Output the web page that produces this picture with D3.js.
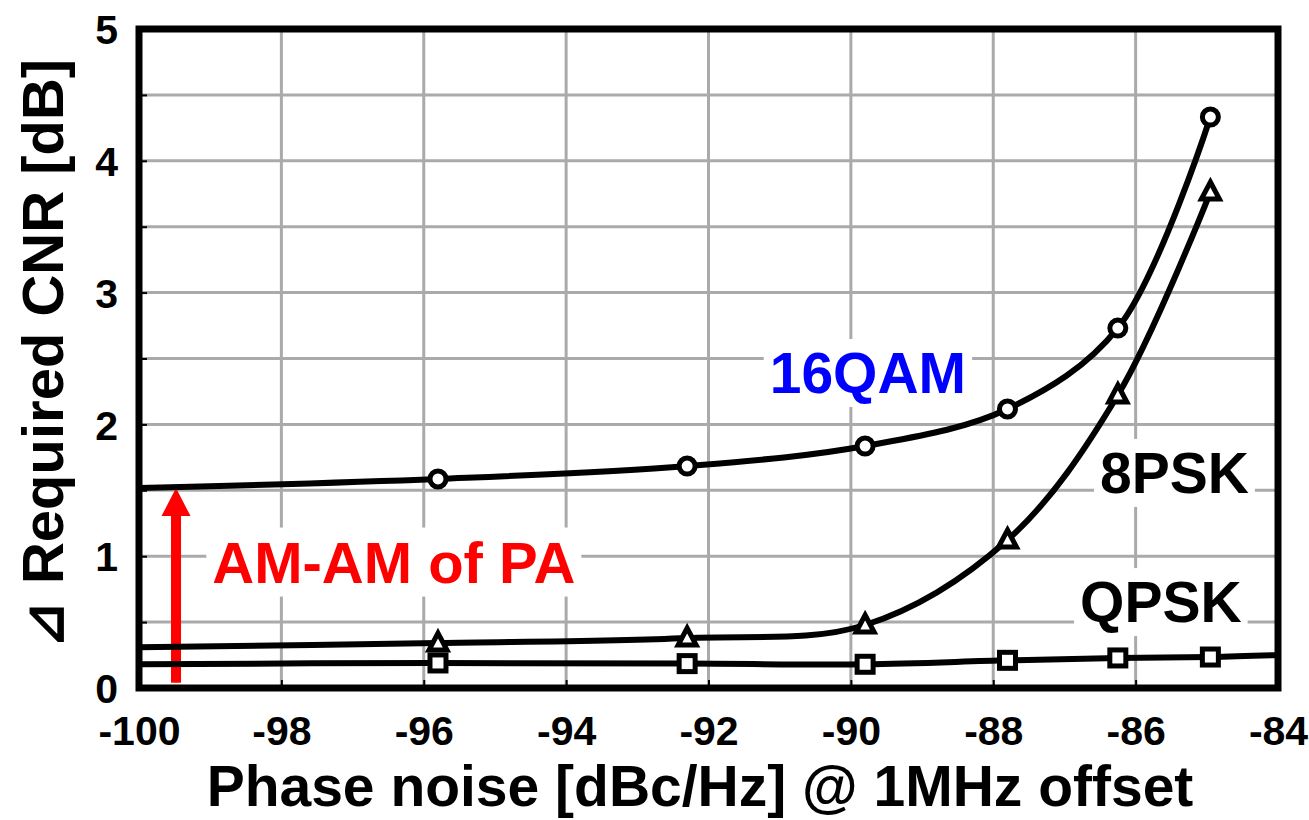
<!DOCTYPE html>
<html>
<head>
<meta charset="utf-8">
<script src="https://cdn.jsdelivr.net/npm/d3@7"></script>
<style>
  html, body { margin: 0; padding: 0; background: #fff; }
  svg { display: block; font-family: "Liberation Sans", Arial, sans-serif; font-weight: bold; }
</style>
</head>
<body>
<svg id="chart" width="1309" height="820"></svg>
<script>
// ---- data ----
const xTicks = [-100, -98, -96, -94, -92, -90, -88, -86, -84];
const yTicks = [0, 1, 2, 3, 4, 5];
const yGrid = [0.5, 1, 1.5, 2, 2.5, 3, 3.5, 4, 4.5];
const markerX = [-95.8, -92.3, -89.8, -87.8, -86.25, -84.95];
const qam16 = [1.586, 1.684, 1.836, 2.117, 2.731, 4.332];
const psk8 = [0.341, 0.379, 0.478, 1.123, 2.223, 3.763];
const qpsk = [0.19, 0.185, 0.18, 0.21, 0.228, 0.235];
// line starts at -100 (all) ; QPSK line continues to -84
const qam16Start = 1.517;
const psk8Start = 0.31;
const qpskStart = 0.18;
const qpskEnd = 0.25;
const xTitle = "Phase noise [dBc/Hz] @ 1MHz offset";
const yTitle = "\u22BF Required CNR [dB]";

// ---- layout ----
const svg = d3.select("#chart");
const L = 139, R = 1278, T = 29, B = 688;
const x = d3.scaleLinear().domain([-100, -84]).range([L, R]);
const y = d3.scaleLinear().domain([0, 5]).range([B, T]);

// grid
const grid = svg.append("g").attr("stroke", "#aaaaaa").attr("stroke-width", 3);
grid.selectAll("line.v").data(xTicks.slice(1, -1)).join("line")
  .attr("x1", d => x(d)).attr("x2", d => x(d)).attr("y1", T).attr("y2", B);
grid.selectAll("line.h").data(yGrid).join("line")
  .attr("x1", L).attr("x2", R).attr("y1", d => y(d)).attr("y2", d => y(d));

// axes (ticks inside)
const xAxis = d3.axisBottom(x).tickValues(xTicks).tickSize(-8).tickFormat(d => d);
const gx = svg.append("g").attr("transform", `translate(0,${B})`).call(xAxis);
gx.select(".domain").remove();
gx.selectAll(".tick line").attr("stroke", "#000").attr("stroke-width", 2);
gx.selectAll(".tick text").attr("font-size", 41).attr("font-weight", "bold")
  .attr("fill", "#000").attr("y", 0).attr("dy", 57).attr("font-family", "Liberation Sans, Arial, sans-serif");

const yAxisMinor = d3.axisLeft(y).tickValues(yGrid.concat([0,5])).tickSize(-8).tickFormat("");
const gyMinor = svg.append("g").attr("transform", `translate(${L},0)`).call(yAxisMinor);
gyMinor.select(".domain").remove();
gyMinor.selectAll(".tick line").attr("stroke", "#000").attr("stroke-width", 2);

const yAxis = d3.axisLeft(y).tickValues(yTicks).tickSize(0).tickPadding(21).tickFormat(d => d);
const gy = svg.append("g").attr("transform", `translate(${L},0)`).call(yAxis);
gy.select(".domain").remove();
gy.selectAll(".tick text").attr("font-size", 41).attr("font-weight", "bold")
  .attr("fill", "#000").attr("dy", "0.36em").attr("font-family", "Liberation Sans, Arial, sans-serif");

// labels with white backgrounds
function label(text, xv, yv, color, size) {
  const g = svg.append("g");
  const t = g.append("text").attr("x", x(xv)).attr("y", y(yv)).attr("fill", color)
    .attr("font-size", size).attr("font-weight", "bold").text(text);
  const bb = t.node().getBBox();
  g.insert("rect", "text").attr("x", bb.x - 6).attr("y", bb.y - 2)
    .attr("width", bb.width + 12).attr("height", bb.height + 4).attr("fill", "#fff");
}
label("16QAM", -91.14, 2.238, "#0000ff", 57);
label("8PSK", -86.5, 1.48, "#000", 57);
label("QPSK", -86.78, 0.50, "#000", 57);
label("AM-AM of PA", -98.97, 0.80, "#ff0000", 58);

// red arrow
const ax = -99.48;
const arrowTop = y(qam16Start);
svg.append("line").attr("x1", x(ax)).attr("x2", x(ax)).attr("y1", y(0.04)).attr("y2", arrowTop + 26)
  .attr("stroke", "#ff0000").attr("stroke-width", 10);
svg.append("path")
  .attr("d", `M${x(ax)},${arrowTop} L${x(ax) - 14.5},${arrowTop + 28} L${x(ax) + 14.5},${arrowTop + 28} Z`)
  .attr("fill", "#ff0000");

// series
const line = d3.line().x(d => x(d[0])).y(d => y(d[1])).curve(d3.curveCatmullRom.alpha(0.5));
function series(vals, start, end, shape) {
  const pts = [[-100, start]].concat(markerX.map((m, i) => [m, vals[i]]));
  if (end !== null) pts.push([-84, end]);
  svg.append("path").datum(pts).attr("d", line).attr("fill", "none")
    .attr("stroke", "#000").attr("stroke-width", 6);
  const mk = svg.append("g");
  const data = markerX.map((m, i) => [m, vals[i]]);
  if (shape === "circle") {
    mk.selectAll("circle").data(data).join("circle")
      .attr("cx", d => x(d[0])).attr("cy", d => y(d[1])).attr("r", 8)
      .attr("fill", "#fff").attr("stroke", "#000").attr("stroke-width", 5);
  } else if (shape === "triangle") {
    mk.selectAll("path").data(data).join("path")
      .attr("d", d => { const cx = x(d[0]), cy = y(d[1]);
        return `M${cx},${cy - 10} L${cx + 9},${cy + 7} L${cx - 9},${cy + 7} Z`; })
      .attr("fill", "#fff").attr("stroke", "#000").attr("stroke-width", 5).attr("stroke-linejoin", "miter");
  } else {
    mk.selectAll("rect").data(data).join("rect")
      .attr("x", d => x(d[0]) - 8).attr("y", d => y(d[1]) - 8).attr("width", 16).attr("height", 16)
      .attr("fill", "#fff").attr("stroke", "#000").attr("stroke-width", 5);
  }
}
series(qam16, qam16Start, null, "circle");
series(psk8, psk8Start, null, "triangle");
series(qpsk, qpskStart, qpskEnd, "square");

// frame
svg.append("rect").attr("x", L).attr("y", T).attr("width", R - L).attr("height", B - T)
  .attr("fill", "none").attr("stroke", "#000").attr("stroke-width", 7);

// titles
svg.append("text").attr("x", 700).attr("y", 806).attr("text-anchor", "middle")
  .attr("font-size", 57).attr("font-weight", "bold").attr("fill", "#000").text(xTitle);
svg.append("text").attr("transform", `translate(63,354) rotate(-90)`).attr("text-anchor", "middle")
  .attr("font-size", 58).attr("font-weight", "bold").attr("fill", "#000").text(yTitle);
</script>
</body>
</html>
